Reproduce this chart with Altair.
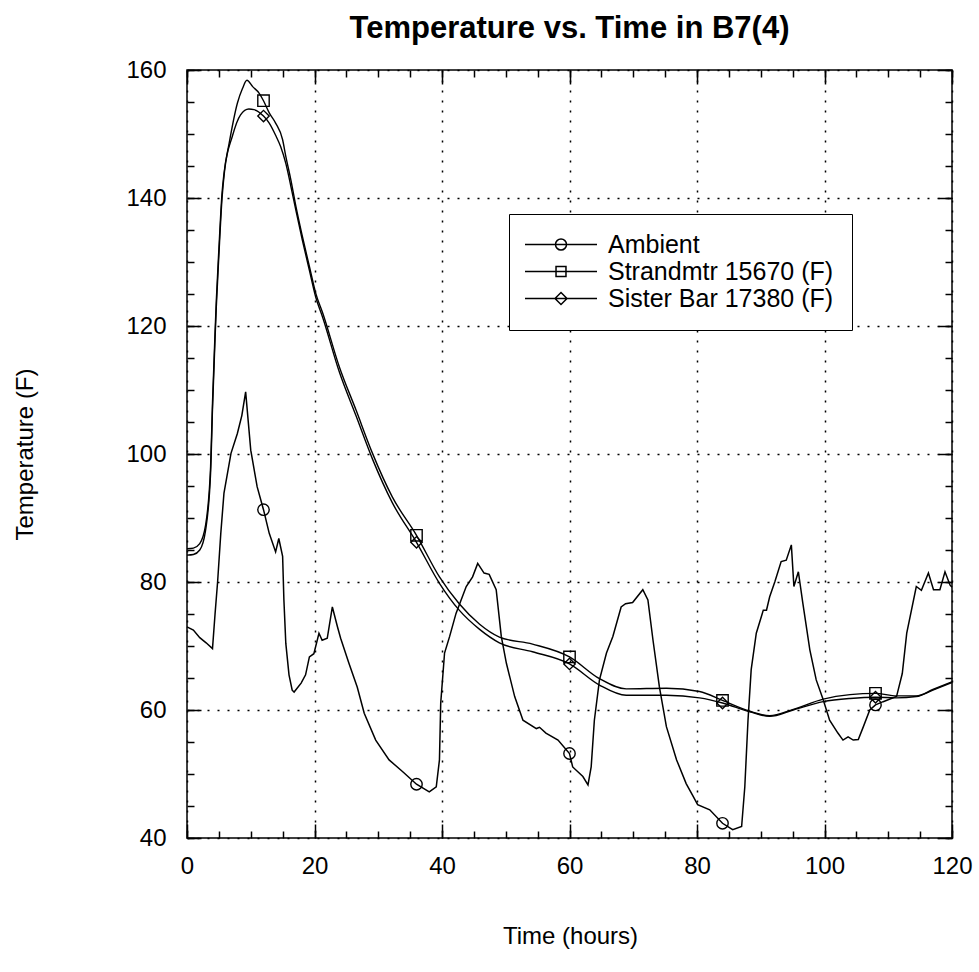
import altair as alt
import pandas as pd

FONT = "Liberation Sans"

# ---- data ----
series_names = ["Ambient", "Strandmtr 15670 (F)", "Sister Bar 17380 (F)"]
marker_t = [12, 36, 60, 84, 108]

amb_t = [0, 1, 2, 3, 4, 4.4, 4.8, 5.3, 5.8, 6.9,
         7.9, 8.6, 9.2, 10, 11, 12, 12.9, 13.9, 14.4, 15,
         15.2, 15.5, 16, 16.5, 16.8, 17.9, 18.6, 19.2, 19.9, 20.7,
         21.2, 22, 22.8, 23.6, 24.1, 25.4, 26.7, 27.8, 29.6, 31.7,
         33.8, 36, 38, 39.1, 39.6, 39.8, 40.4, 41.2, 42.2, 43.8,
         44.8, 45.6, 46.6, 47.4, 48.5, 49.3, 50.1, 51.4, 52.7, 54.8,
         55.3, 56.3, 58.2, 60, 60.5, 62.1, 62.9, 63.4, 63.9, 64.7,
         65.8, 66.8, 68.1, 68.8, 69.9, 71.5, 72.3, 73.1, 74.1, 75.2,
         76.8, 78.3, 79.4, 80.1, 82, 84, 85.6, 87, 87.5, 88,
         88.5, 89.3, 90.1, 90.4, 90.9, 91.4, 92.2, 93.2, 94, 94.8,
         95.2, 95.9, 96.6, 97.7, 98.7, 99.8, 100.8, 102.1, 102.9, 103.7,
         104.5, 105.3, 106.1, 107.1, 108, 109.2, 111.3, 112.2, 112.9, 114.4,
         115.2, 116.3, 117.1, 118.1, 118.9, 119.7, 120]
amb_T = [73, 72.5, 71.3, 70.5, 69.6, 75, 80, 87.6, 93.9, 100.1,
         103.2, 106, 109.7, 100.6, 94.9, 91.3, 87.6, 84.7, 86.8, 84,
         77.2, 70.4, 65.5, 63.1, 62.8, 64.2, 65.5, 68.3, 68.8, 72,
         70.9, 71.2, 76.1, 73, 71.2, 67.3, 63.6, 59.5, 55.3, 52.2,
         50.4, 48.4, 47.2, 48, 52.2, 61.1, 68.9, 71.5, 75.1, 79.3,
         80.8, 82.9, 81.4, 81.2, 78.8, 71.5, 67.3, 62.1, 58.4, 57.1,
         57.3, 56.4, 55.3, 53.2, 51.1, 49.6, 48.3, 51.1, 58.4, 64.7,
         68.9, 71.5, 76.1, 76.6, 76.8, 78.8, 77.2, 70.9, 63.6, 57.4,
         52.2, 48.5, 46.5, 45.2, 44.4, 42.3, 41.3, 41.8, 48, 58.4,
         66.3, 72, 74.6, 75.6, 75.6, 77.7, 80, 83.2, 83.4, 85.8,
         79.3, 81.6, 76.7, 69.4, 64.7, 61.6, 58.4, 56.4, 55.3, 55.8,
         55.3, 55.4, 57.4, 60, 60.8, 61.3, 62.1, 65.7, 72, 79.3,
         78.7, 81.4, 78.8, 78.8, 81.6, 79.5, 79.2]

str_t = [0, 1, 2, 2.9, 3.7, 4.0, 4.4, 4.6, 5.0, 5.5,
         5.8, 6.6, 7.9, 8.7, 9.4, 10.3, 11.3, 12, 12.9, 13.9,
         15, 15.5, 16.3, 17.1, 18.1, 19.2, 20.2, 21.3, 23.9, 26.5,
         29.1, 32.2, 36, 39.6, 42.7, 45.9, 49, 54.2, 60, 64.7,
         68.9, 75.2, 80.4, 84, 88.3, 91.4, 95.1, 99.8, 104, 108,
         111.3, 114.4, 117, 120]
str_T = [85.2, 85.3, 86, 88.8, 98, 108, 119, 124, 132, 140.8,
         143.8, 148.5, 154.8, 157.1, 158.4, 157.4, 156.4, 155.2, 153.3, 151.7,
         149.1, 146.5, 142.8, 138.6, 134, 129.3, 125.1, 122, 113.6, 106.9,
         100.1, 93.3, 87.3, 80.8, 76.6, 73.4, 71.4, 70.3, 68.3, 64.9,
         63.3, 63.4, 62.9, 61.5, 59.8, 59.1, 60.1, 61.7, 62.4, 62.6,
         62.2, 62.2, 63.2, 64.4]

sis_t = [0, 1, 2, 2.9, 3.7, 4.0, 4.4, 4.6, 5.0, 5.5,
         5.9, 7.1, 8.4, 9.7, 10.5, 12, 12.9, 13.9, 14.7, 15.5,
         16.3, 17.1, 18.1, 19.2, 20.2, 21.3, 23.9, 26.5, 29.1, 32.2,
         36, 39.6, 42.7, 45.9, 49, 54.2, 60, 64.7, 68.9, 75.2,
         80.4, 84, 88.3, 91.4, 95.1, 99.8, 104, 108, 111.3, 114.4,
         117, 120]
sis_T = [84.2, 84.3, 85, 88, 97, 107, 118, 123, 131, 140,
         144.3, 149.6, 153, 153.9, 153.8, 152.8, 151.7, 149.8, 148, 145.4,
         141.8, 138, 133.4, 128.7, 124.5, 121.3, 112.8, 106, 99.2, 92.4,
         86.2, 79.8, 75.6, 72.6, 70.5, 69.1, 67.2, 63.9, 62.3, 62.3,
         61.9, 61.1, 59.7, 59.0, 60.0, 61.3, 61.8, 62.0, 61.9, 62.1,
         63.1, 64.3]

x_major = [0, 20, 40, 60, 80, 100, 120]
x_minor = [0, 5, 10, 15, 20, 25, 30, 35, 40, 45, 50, 55, 60, 65, 70, 75, 80,
           85, 90, 95, 100, 105, 110, 115, 120]
y_major = [40, 60, 80, 100, 120, 140, 160]
y_minor = [40, 45, 50, 55, 60, 65, 70, 75, 80, 85, 90, 95, 100, 105, 110, 115,
           120, 125, 130, 135, 140, 145, 150, 155, 160]

# ---- tables ----
amb = pd.DataFrame({"t": amb_t, "T": amb_T, "series": series_names[0]})
strd = pd.DataFrame({"t": str_t, "T": str_T, "series": series_names[1]})
sis = pd.DataFrame({"t": sis_t, "T": sis_T, "series": series_names[2]})
allpts = pd.concat([amb, strd, sis], ignore_index=True)
pts = allpts[allpts["t"].isin(marker_t)].reset_index(drop=True)

xs = alt.Scale(domain=[0, 120], nice=False, zero=False)
ys = alt.Scale(domain=[40, 160], nice=False, zero=False)

MAJ, MIN = 14, 7
grid_style = dict(gridColor="black", gridDash=[2, 8], gridWidth=1.5, gridOpacity=1)
tick_style = dict(tickColor="black", tickWidth=1.5, domain=False)
label_style = dict(labelFont=FONT, labelFontSize=24, labelColor="black",
                   labelFlush=False, labelOverlap=False)
title_style = dict(titleFont=FONT, titleFontSize=24, titleFontWeight="normal",
                   titleColor="black", titleBaseline="middle", titleAlign="center")

ax_bottom_major = alt.Axis(orient="bottom", values=x_major, offset=-MAJ, tickSize=MAJ,
                           labels=True, labelPadding=16, grid=True,
                           title="Time (hours)", titleX=383, titleY=112, titleAngle=0,
                           **tick_style, **grid_style, **label_style, **title_style)
ax_left_major = alt.Axis(orient="left", values=y_major, offset=-MAJ, tickSize=MAJ,
                         labels=True, labelPadding=21, grid=True,
                         title="Temperature (F)", titleX=-176, titleY=384, titleAngle=270,
                         **tick_style, **grid_style, **label_style, **title_style)


def plain_axis(orient, values, size):
    return alt.Axis(orient=orient, values=values, offset=-size, tickSize=size,
                    labels=False, grid=False, title=None, **tick_style)


line_ambient = alt.Chart(amb).mark_line(color="black", strokeWidth=1.5).encode(
    x=alt.X("t:Q", scale=xs, axis=ax_bottom_major),
    y=alt.Y("T:Q", scale=ys, axis=ax_left_major),
)
line_strand = alt.Chart(strd).mark_line(color="black", strokeWidth=1.4,
                                        interpolate="monotone").encode(
    x=alt.X("t:Q", scale=xs, axis=plain_axis("bottom", x_minor, MIN)),
    y=alt.Y("T:Q", scale=ys, axis=plain_axis("left", y_minor, MIN)),
)
line_sister = alt.Chart(sis).mark_line(color="black", strokeWidth=1.4,
                                       interpolate="monotone").encode(
    x=alt.X("t:Q", scale=xs, axis=plain_axis("top", x_major, MAJ)),
    y=alt.Y("T:Q", scale=ys, axis=plain_axis("right", y_major, MAJ)),
)

points = alt.Chart(pts).mark_point(filled=False, color="black", size=130,
                                   strokeWidth=1.4, opacity=1).encode(
    x=alt.X("t:Q", scale=xs, axis=plain_axis("top", x_minor, MIN)),
    y=alt.Y("T:Q", scale=ys, axis=plain_axis("right", y_minor, MIN)),
    shape=alt.Shape("series:N",
                    scale=alt.Scale(domain=series_names,
                                    range=["circle", "square", "diamond"]),
                    legend=None),
)

# legend symbols: a line segment with the series' marker on it
PATH_CIRCLE = "M-6,0L6,0M0.92,0A0.92,0.92,0,1,1,-0.92,0A0.92,0.92,0,1,1,0.92,0"
PATH_SQUARE = "M-6,0L6,0M-0.83,-0.83L0.83,-0.83L0.83,0.83L-0.83,0.83Z"
PATH_DIAMOND = "M-6,0L6,0M0,-1L1,0L0,1L-1,0Z"

legend = alt.Legend(
    title=None, orient="none", legendX=322, legendY=144, direction="vertical",
    fillColor="white", strokeColor="black", padding=18, rowPadding=1,
    labelFont=FONT, labelFontSize=25, labelColor="black", labelLimit=400,
    symbolOffset=21.5, labelOffset=34.5, symbolStrokeWidth=1.5, symbolSize=144,
    symbolOpacity=1, symbolFillColor="transparent", symbolStrokeColor="black",
)

legend_layer = alt.Chart(pts).mark_point(filled=False, color="black", size=144,
                                         opacity=0).encode(
    x=alt.X("t:Q", scale=xs, axis=None),
    y=alt.Y("T:Q", scale=ys, axis=None),
    shape=alt.Shape("series:N",
                    scale=alt.Scale(domain=series_names,
                                    range=[PATH_CIRCLE, PATH_SQUARE, PATH_DIAMOND]),
                    legend=legend),
)

chart = (
    alt.layer(line_ambient, line_strand, line_sister, points, legend_layer)
    .resolve_axis(x="independent", y="independent")
    .resolve_scale(shape="independent")
    .properties(
        width=765, height=768,
        title=alt.Title("Temperature vs. Time in B7(4)", font=FONT, fontSize=31,
                        fontWeight="bold", color="black", anchor="middle", offset=13),
        autosize=alt.AutoSizeParams(type="none"),
        padding={"left": 187, "top": 70, "right": 27, "bottom": 134},
        background="white",
    )
    .configure_view(stroke="black", strokeWidth=1.5, fill="white")
)

chart.save("out.html", embed_options={"renderer": "svg", "actions": False})
